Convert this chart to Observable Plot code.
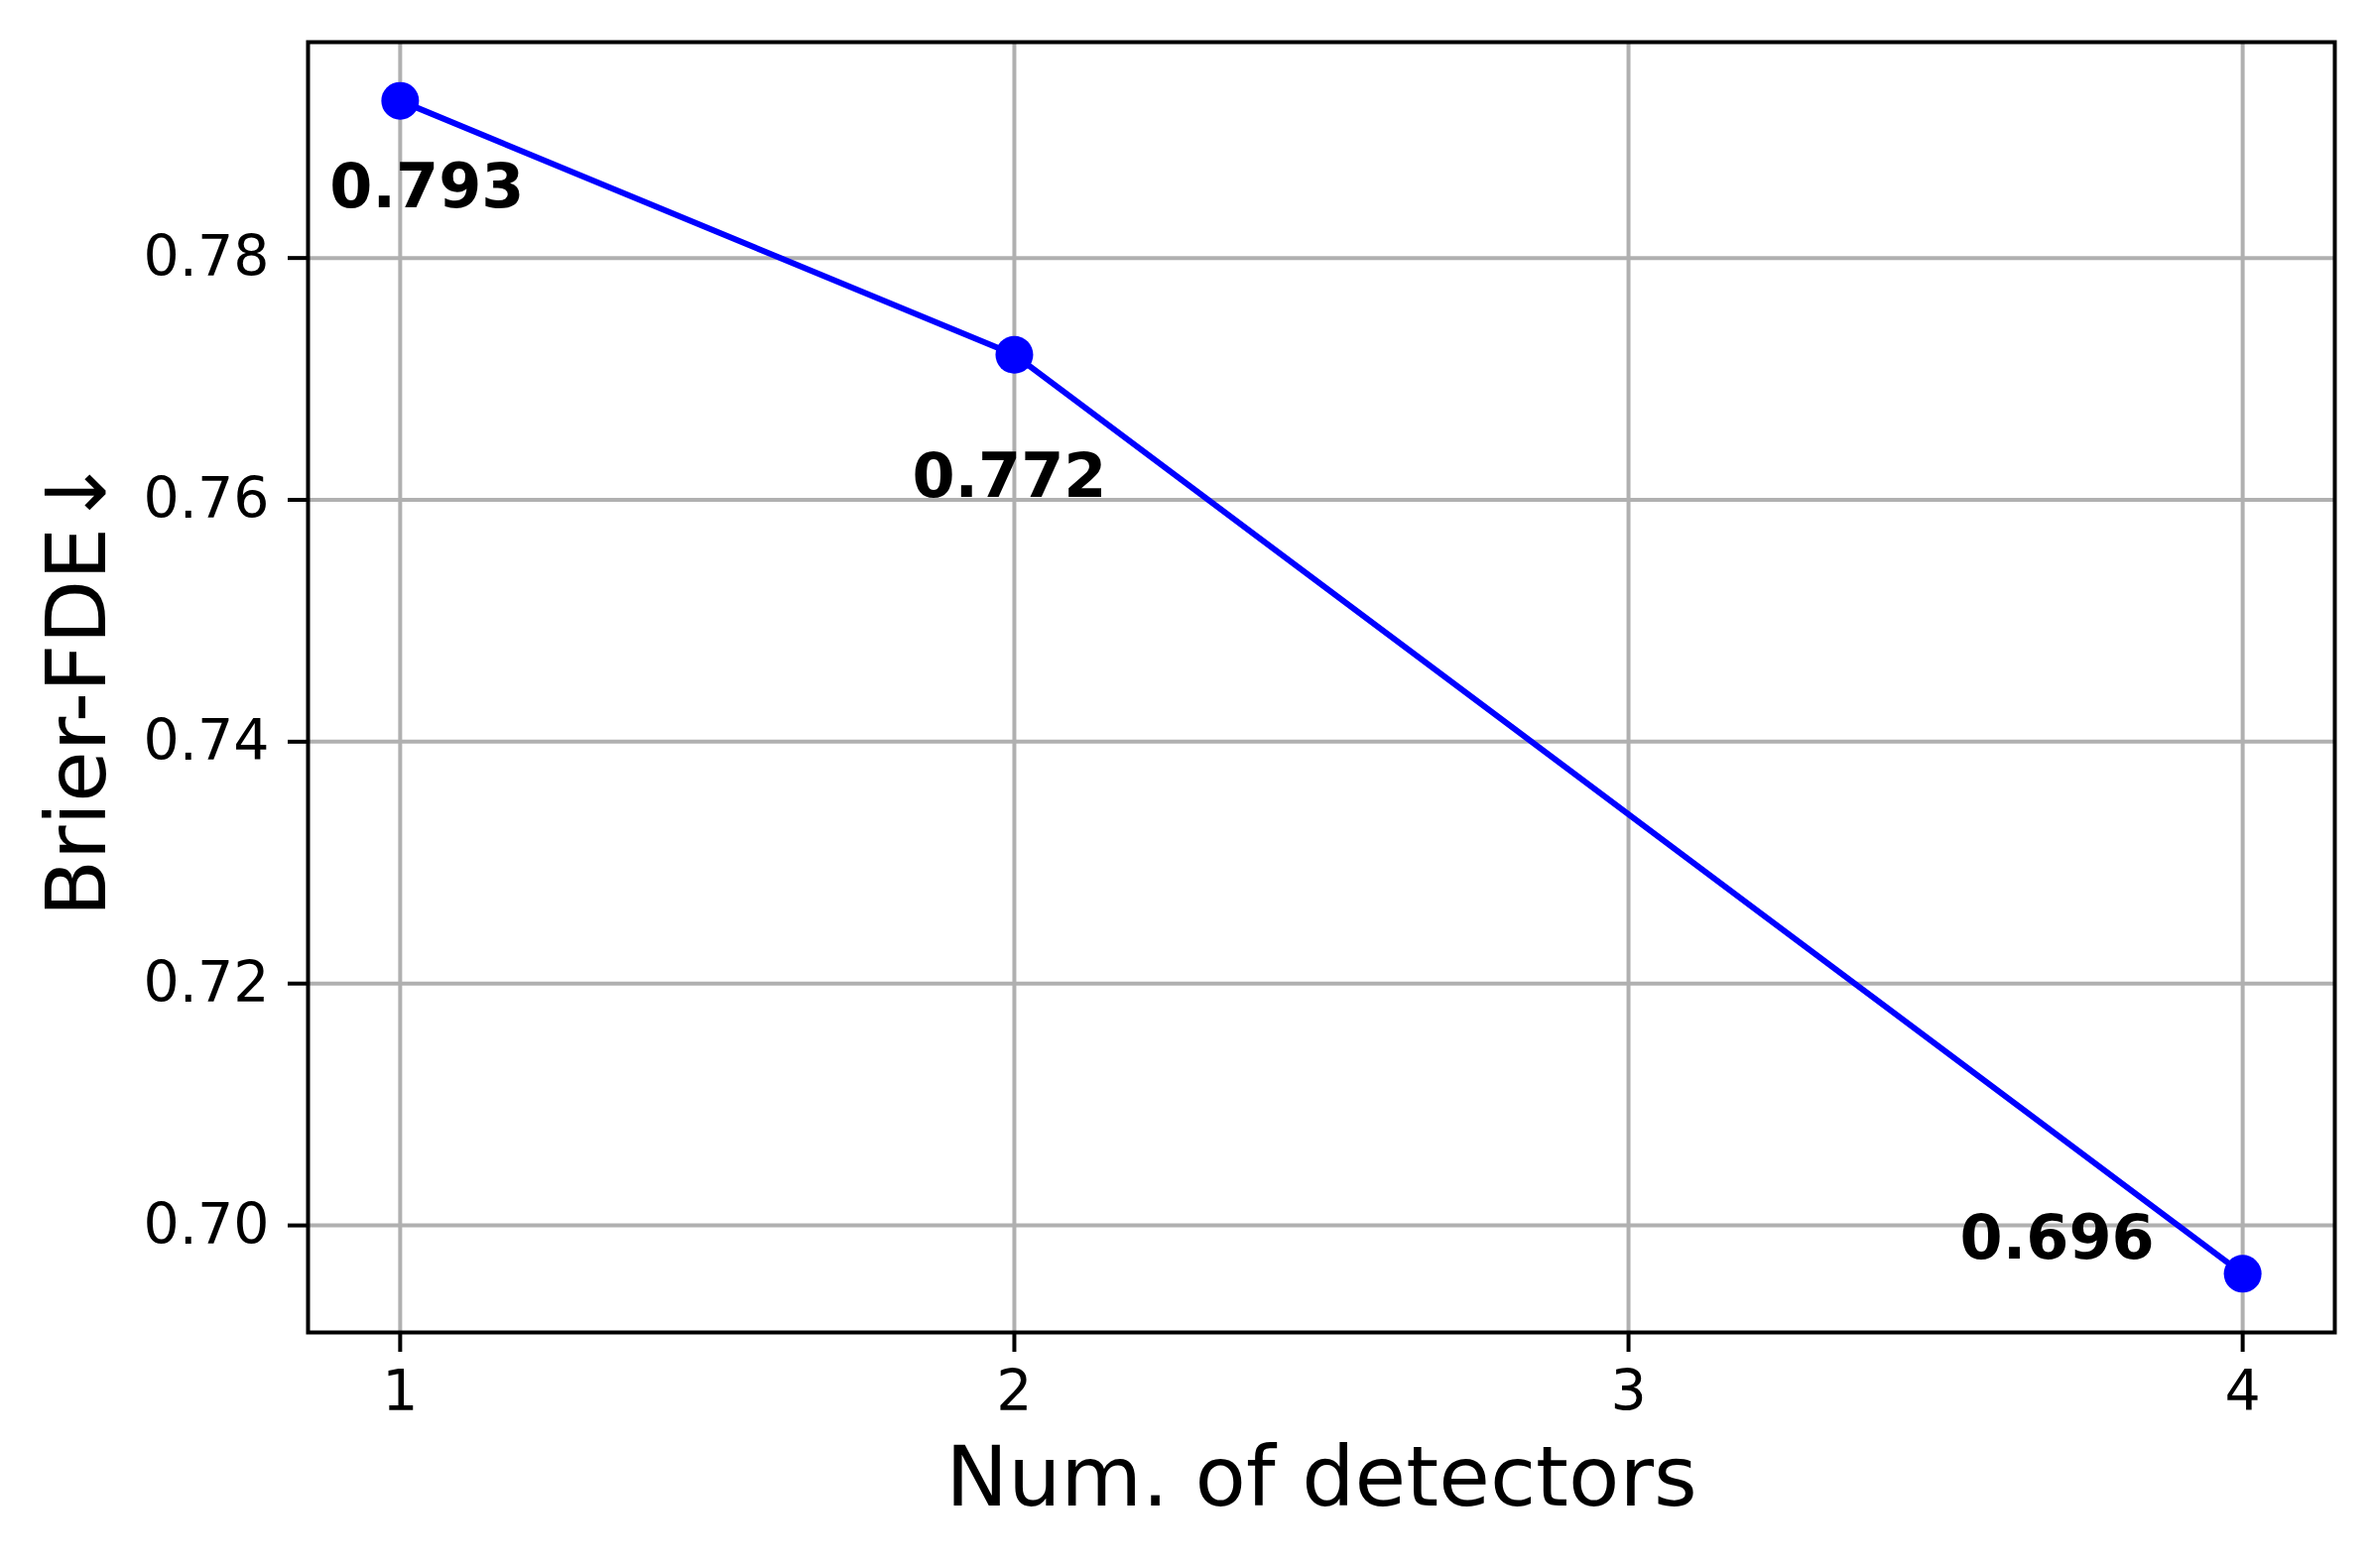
<!DOCTYPE html>
<html>
<head>
<meta charset="utf-8">
<script src="https://cdn.jsdelivr.net/npm/d3@7"></script>
<script src="https://cdn.jsdelivr.net/npm/@observablehq/plot@0.6"></script>
<style>
  html, body { margin: 0; padding: 0; background: #fff; }
  #chart svg { display: block; }
</style>
</head>
<body>
<div id="chart"></div>
<script>
// Data
const detectors = [1, 2, 4];
const brierFDE = [0.793, 0.772, 0.696];
const valueLabels = ["0.793", "0.772", "0.696"];
const xTicks = [1, 2, 3, 4];
const yTicks = [0.70, 0.72, 0.74, 0.76, 0.78];
const xLabel = "Num. of detectors";
const yLabel = "Brier-FDE\u2193";

const data = detectors.map((d, i) => ({x: d, y: brierFDE[i], label: valueLabels[i]}));

const font = "DejaVu Sans";
const gridColor = "#b0b0b0";
const blue = "#0000ff";

// per-label pixel offsets (layout, not data)
const labelOffsets = [[27, 88], [-5, 123], [-187, -35]];

const labelMarks = data.map((d, i) => Plot.text([d], {
  x: "x", y: "y", text: "label",
  dx: labelOffsets[i][0], dy: labelOffsets[i][1],
  fontSize: 62, fontWeight: "bold", fill: "black",
  textAnchor: "middle", lineAnchor: "middle"
}));

const chart = Plot.plot({
  width: 2392,
  height: 1581,
  marginLeft: 310,
  marginRight: 39,
  marginTop: 42,
  marginBottom: 238,
  style: {fontFamily: font, background: "#fff"},
  x: {domain: [0.85, 4.15]},
  y: {domain: [0.69115, 0.79785]},
  marks: [
    Plot.gridX(xTicks, {stroke: gridColor, strokeOpacity: 1, strokeWidth: 4}),
    Plot.gridY(yTicks, {stroke: gridColor, strokeOpacity: 1, strokeWidth: 4}),
    Plot.axisX(xTicks, {tickSize: 20, tickPadding: 18, strokeWidth: 4, fontSize: 57, label: null, tickFormat: d => String(d)}),
    Plot.axisY(yTicks, {tickSize: 20, tickPadding: 19, strokeWidth: 4, fontSize: 57, label: null, tickFormat: d3.format(".2f")}),
    Plot.line(data, {x: "x", y: "y", stroke: blue, strokeWidth: 6}),
    Plot.dot(data, {x: "x", y: "y", r: 19, fill: blue, stroke: "none"}),
    ...labelMarks,
    Plot.frame({stroke: "black", strokeWidth: 4}),
    Plot.text([xLabel], {frameAnchor: "bottom", text: d => d, dy: 148, fontSize: 84, textAnchor: "middle", lineAnchor: "middle", fill: "black"}),
    Plot.text([yLabel], {frameAnchor: "left", text: d => d, dx: -231, rotate: -90, fontSize: 84, textAnchor: "middle", lineAnchor: "middle", fill: "black"})
  ]
});

document.getElementById("chart").appendChild(chart);
</script>
</body>
</html>
